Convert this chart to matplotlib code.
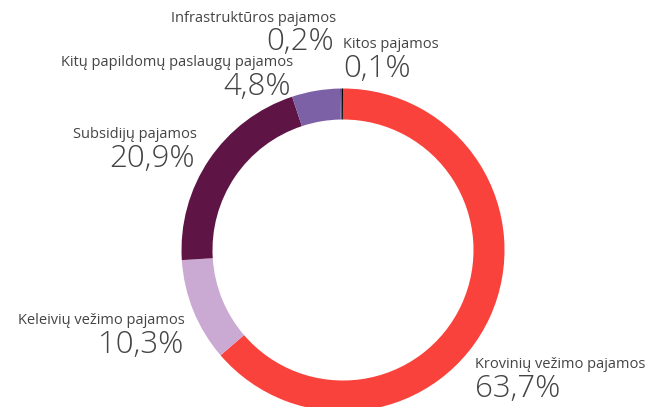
import matplotlib

matplotlib.use('Agg')
import matplotlib.pyplot as plt

labels = ['Krovinių vežimo pajamos', 'Keleivių vežimo pajamos', 'Subsidijų pajamos',
          'Kitų papildomų paslaugų pajamos', 'Infrastruktūros pajamos', 'Kitos pajamos']
shares = [63.7, 10.3, 20.9, 4.8, 0.2, 0.1]
pct_text = ['63,7%', '10,3%', '20,9%', '4,8%', '0,2%', '0,1%']
colors = ['#FA423C', '#CAAAD3', '#5F1446', '#7C61A6', '#6A5290', '#000000']

W, H, dpi = 646, 407, 100
fig = plt.figure(figsize=(W / dpi, H / dpi), dpi=dpi)
ax = fig.add_axes([0, 0, 1, 1])

cx, cy, r = 343, H - 250, 161.5
ax.pie(shares, colors=colors, startangle=90, counterclock=False,
       center=(cx, cy), radius=r,
       wedgeprops=dict(width=31, linewidth=0))
ax.set_xlim(0, W)
ax.set_ylim(0, H)
ax.set_aspect('auto')
ax.axis('off')

# label anchors in pixel coords (x, y of name, alignment)
anchors = {
    'Krovinių vežimo pajamos': (475, 365, 'left'),
    'Keleivių vežimo pajamos': (185, 321, 'right'),
    'Subsidijų pajamos': (197, 135, 'right'),
    'Kitų papildomų paslaugų pajamos': (293, 63, 'right'),
    'Infrastruktūros pajamos': (336, 18, 'right'),
    'Kitos pajamos': (343, 45, 'left'),
}

for name, pct in zip(labels, pct_text):
    x, y, ha = anchors[name]
    ax.text(x, H - y, name, ha=ha, va='center', fontsize=10.5,
            color='#444444', family='Open Sans')
    ax.text(x - (2 if ha == 'right' else 0), H - y - 24, pct, ha=ha, va='center',
            fontsize=22.5, color='#444444', family='Open Sans', weight='light')

fig.savefig('out.png', dpi=dpi)
plt.close(fig)
